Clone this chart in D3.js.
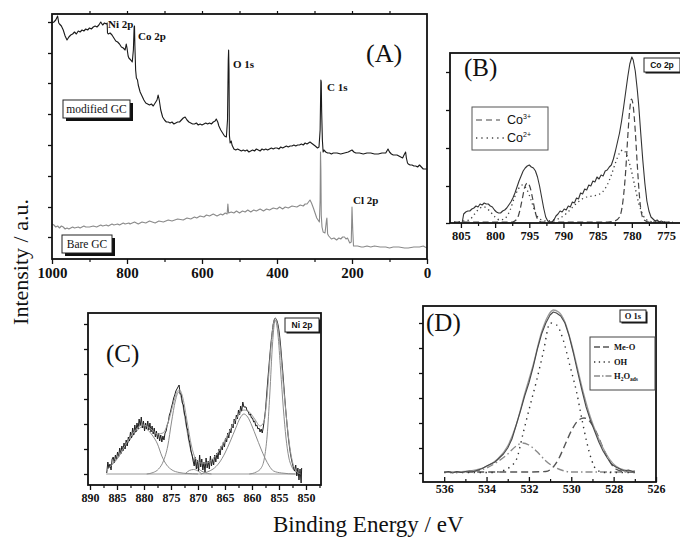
<!DOCTYPE html>
<html><head><meta charset="utf-8">
<script src="https://cdn.jsdelivr.net/npm/d3@7"></script>
<style>
html,body{margin:0;padding:0;background:#fff;}
svg{display:block;font-family:"Liberation Serif","Times New Roman",serif;}
</style></head><body>
<script>
// ---------- (A) survey spectra: [binding energy eV, intensity a.u.] ----------
const modifiedGC = [[1000,236],[995,237],[990,239],[985,243],[982,236],[980,235],[975,233],[970,229],[965,223],[960,219],[955,222],[950,224],[945,225],[940,227],[935,225],[930,228],[925,227],[920,229],[915,228],[910,230],[905,229],[900,231],[895,230],[890,232],[885,233],[880,232],[875,234],[870,237],[865,234],[860,236],[855,235],[853,236],[852,226],[850,225],[845,226],[840,224],[835,221],[830,218],[825,217],[820,215],[815,212],[810,211],[805,209],[802,215],[800,211],[797,203],[795,201],[790,199],[786,197],[783,209],[781,232],[780,233],[779,214],[777,189],[775,181],[772,179],[770,174],[765,167],[760,163],[755,159],[750,156],[745,155],[740,154],[735,155],[730,153],[725,156],[720,159],[717,164],[714,159],[710,149],[705,142],[700,139],[695,137],[690,137],[685,136],[680,137],[675,135],[670,136],[665,137],[660,137],[655,139],[650,141],[645,142],[640,139],[635,137],[630,136],[625,135],[620,135],[615,136],[610,134],[605,135],[600,134],[595,135],[590,136],[585,135],[580,136],[575,135],[570,137],[565,138],[562,140],[558,137],[555,133],[550,129],[545,126],[540,123],[535,122],[532,139],[530,199],[529,209],[528,189],[527,124],[525,116],[522,118],[520,114],[515,110],[510,109],[505,110],[500,109],[495,108],[490,109],[485,108],[480,109],[475,107],[470,108],[465,109],[460,108],[455,110],[450,109],[445,108],[440,110],[435,109],[430,110],[425,109],[420,110],[415,111],[410,110],[405,111],[400,111],[395,110],[390,112],[385,111],[380,112],[375,113],[370,112],[365,113],[360,113],[355,114],[350,113],[345,114],[340,114],[335,115],[330,114],[325,116],[320,115],[312,117],[305,115],[298,113],[292,111],[288,112],[285,129],[283,179],[282,177],[281,149],[279,119],[277,107],[275,109],[270,107],[265,106],[260,106],[255,105],[250,106],[240,106],[230,105],[220,106],[210,107],[200,109],[195,107],[190,106],[180,106],[170,105],[160,106],[150,106],[140,105],[130,105],[120,106],[110,106],[104,110],[100,107],[95,105],[90,104],[85,104],[80,104],[75,103],[70,102],[65,101],[60,105],[57,107],[55,101],[52,96],[50,95],[45,94],[40,94],[35,93],[30,93],[25,92],[20,94],[15,92],[10,90],[5,90],[0,90]];

const bareGC = [[1000,35],[995,34],[990,32],[985,33],[980,31],[975,33],[970,32],[965,30],[960,31],[955,30],[950,31],[945,32],[940,31],[930,32],[925,31],[915,33],[910,32],[900,32],[890,33],[881,32],[870,34],[865,33],[855,34],[850,33],[840,35],[835,34],[825,35],[820,34],[810,36],[805,35],[795,36],[792,35],[780,37],[770,35],[760,37],[750,36],[740,38],[725,36],[715,38],[703,37],[690,39],[680,38],[665,40],[650,39],[640,41],[630,40],[620,42],[614,41],[605,43],[595,42],[588,44],[580,43],[570,45],[560,43],[550,45],[545,44],[538,46],[533,45],[531,55],[529,46],[522,47],[515,46],[508,48],[500,46],[492,48],[485,47],[478,49],[470,47],[462,49],[455,48],[445,50],[436,48],[428,50],[420,49],[410,51],[400,50],[393,52],[385,50],[378,52],[370,51],[360,53],[347,52],[338,54],[330,53],[325,55],[320,55],[316,57],[312,59],[308,56],[303,51],[294,41],[287,37],[285,59],[284,107],[283,89],[282,44],[280,32],[277,27],[272,26],[268,39],[267,41],[265,25],[262,23],[255,20],[248,21],[241,19],[235,21],[230,20],[225,22],[220,22],[216,20],[212,21],[206,16],[202,17],[200,52],[198,29],[196,13],[185,13],[175,12],[170,12],[160,13],[150,12],[140,13],[125,12],[110,12],[100,11],[90,12],[75,12],[60,11],[50,11],[35,12],[20,12],[10,13],[0,11]];

const surveyTicks = [1000,800,600,400,200,0];
const surveyMinor = [900,700,500,300,100];
const surveyYTicks = [22,52,83,114,145,176,206,237];

// ---------- (B) Co 2p ----------
const co2pData = [[804.8,1],[804.6,9],[804.3,11],[804.0,12],[803.7,12],[803.4,14],[803.1,15],[802.8,17],[802.5,16],[802.2,19],[801.9,18],[801.6,20],[801.3,19],[801.0,19],[800.7,17],[800.4,16],[800.1,13],[799.8,11],[799.5,10],[799.2,10],[798.9,12],[798.6,13],[798.3,15],[798.0,18],[797.7,21],[797.4,25],[797.1,30],[796.8,36],[796.5,42],[796.2,47],[795.9,52],[795.6,55],[795.3,57],[795.0,58],[794.7,56],[794.4,55],[794.1,52],[793.8,46],[793.5,37],[793.2,26],[792.9,15],[792.6,6],[792.3,2],[792.0,1],[791.7,1],[791.4,3],[791.1,7],[790.8,9],[790.5,12],[790.2,11],[789.9,14],[789.6,13],[789.3,17],[789.0,16],[788.7,21],[788.4,20],[788.1,25],[787.8,24],[787.5,30],[787.2,29],[786.9,34],[786.6,33],[786.3,38],[786.0,37],[785.7,42],[785.4,41],[785.1,46],[784.8,44],[784.5,48],[784.2,47],[783.9,52],[783.6,53],[783.3,56],[783.0,58],[782.7,64],[782.4,72],[782.1,81],[781.8,90],[781.5,102],[781.2,116],[780.9,131],[780.6,146],[780.3,159],[780.0,166],[779.8,163],[779.5,152],[779.2,133],[779.0,118],[778.7,90],[778.4,63],[778.1,40],[777.8,22],[777.5,12],[777.2,6],[776.9,4],[776.6,2],[776.3,3],[776.0,1],[775.7,2],[775.4,1]];

const co3Fit = [[806,1],[800,1],[797.5,1],[796.8,4],[796.4,12],[796.0,25],[795.7,35],[795.3,40],[794.9,36],[794.5,24],[794.1,10],[793.7,3],[793.2,1],[788,1],[783.5,1],[782.5,2],[781.8,6],[781.3,22],[780.9,52],[780.6,86],[780.3,114],[780.05,124],[779.8,117],[779.5,92],[779.2,58],[778.9,28],[778.6,10],[778.2,3],[777.5,1],[774,1]];

const co2Fit = [[806,1],[803.8,3],[803,9],[802.2,15],[801.6,16],[800.8,12],[800,6],[799.3,3],[798.5,5],[797.8,13],[797.2,25],[796.6,34],[796.0,38],[795.4,34],[794.8,24],[794.2,12],[793.5,4],[792.5,2],[791.5,3],[790.5,5],[789.5,10],[788.5,17],[787.5,23],[786.6,26],[785.8,27],[785.0,28],[784.3,31],[783.6,38],[783.0,48],[782.4,60],[781.8,70],[781.3,73],[780.8,69],[780.2,56],[779.6,38],[779.0,20],[778.3,7],[777.5,2],[776.5,1],[774,1]];

const co2pTicks = [805,800,795,790,785,780,775];
const co2pMinor = [802.5,797.5,792.5,787.5,782.5,777.5,772.5];
const co2pYTicks = [0,37,75,113,151];

// ---------- (C) Ni 2p ----------
const ni2pData = [[886.9,1],[886.7,12],[886.5,6],[886.3,10],[886.1,4],[885.9,15],[885.7,17],[885.5,11],[885.3,19],[885.1,14],[884.9,22],[884.7,17],[884.5,26],[884.3,20],[884.1,28],[883.9,23],[883.7,31],[883.5,25],[883.3,34],[883.1,28],[882.9,37],[882.7,33],[882.5,42],[882.3,36],[882.1,46],[881.9,39],[881.7,49],[881.5,42],[881.3,51],[881.1,45],[880.9,55],[880.7,48],[880.5,57],[880.3,46],[880.1,53],[879.9,43],[879.7,51],[879.5,45],[879.3,53],[879.1,44],[878.9,51],[878.7,42],[878.5,48],[878.3,40],[878.1,46],[877.9,37],[877.7,43],[877.5,35],[877.3,41],[877.1,33],[876.9,39],[876.7,32],[876.5,38],[876.3,34],[876.1,41],[875.9,43],[875.7,49],[875.5,52],[875.3,59],[875.1,62],[874.9,67],[874.7,71],[874.5,76],[874.3,79],[874.1,83],[873.9,85],[873.7,87],[873.5,89],[873.3,80],[873.1,80],[872.9,71],[872.7,69],[872.5,60],[872.3,57],[872.1,47],[871.9,44],[871.7,35],[871.5,31],[871.3,23],[871.1,19],[870.9,13],[870.7,8],[870.5,17],[870.3,5],[870.1,14],[869.9,3],[869.7,19],[869.5,7],[869.3,15],[869.1,4],[868.9,12],[868.7,2],[868.5,16],[868.3,6],[868.1,13],[867.9,5],[867.7,18],[867.5,8],[867.3,15],[867.1,9],[866.9,19],[866.7,12],[866.5,21],[866.3,15],[866.1,25],[865.9,19],[865.7,28],[865.5,24],[865.3,32],[865.1,27],[864.9,36],[864.7,32],[864.5,41],[864.3,36],[864.1,45],[863.9,41],[863.7,50],[863.5,46],[863.3,55],[863.1,50],[862.9,59],[862.7,55],[862.5,64],[862.3,59],[862.1,68],[861.9,63],[861.7,72],[861.5,67],[861.3,67],[861.1,67],[860.9,63],[860.7,63],[860.5,59],[860.3,60],[860.1,56],[859.9,56],[859.7,52],[859.5,53],[859.3,48],[859.1,49],[858.9,45],[858.7,46],[858.5,42],[858.3,45],[858.1,41],[857.9,47],[857.7,55],[857.5,64],[857.3,78],[857.1,92],[856.9,105],[856.7,118],[856.5,130],[856.3,140],[856.1,149],[855.9,154],[855.7,156],[855.5,155],[855.3,152],[855.1,147],[854.9,139],[854.7,128],[854.5,115],[854.3,102],[854.1,88],[853.9,74],[853.7,61],[853.5,49],[853.3,38],[853.1,29],[852.9,21],[852.7,15],[852.5,10],[852.3,6],[852.1,3],[851.9,9],[851.7,-2],[851.5,6],[851.3,-6],[851.1,5],[850.9,-9],[850.8,6]];

const ni2pEnvelope = [[887,3],[886,9],[885,15],[884,24],[883,33],[882,41],[881,47],[880.3,49],[879.5,48],[878.5,44],[877.5,40],[876.5,41],[875.5,52],[874.5,72],[873.8,83],[873.4,84],[872.8,76],[872,52],[871.2,28],[870.5,16],[869.5,11],[868.5,11],[867.5,14],[866.5,20],[865.5,29],[864.5,39],[863.5,50],[862.5,59],[861.5,64],[860.5,62],[859.5,55],[858.5,48],[857.8,52],[857.2,78],[856.6,120],[856.1,148],[855.7,156],[855.3,150],[854.8,128],[854.2,90],[853.6,55],[853,27],[852.4,10],[851.8,3],[851,0]];
const ni2pPeak1 = [[887,3],[886,9],[885,15],[884,23],[883,31],[882,39],[881,45],[880.3,47],[879.5,45],[878.5,39],[877.5,30],[876.7,18],[875.8,9],[874.8,4],[873.5,1.5],[872,0.5],[870,0]];
const ni2pPeak2 = [[879.5,0],[878.3,1.5],[877.3,5],[876.4,13],[875.6,28],[874.9,52],[874.2,73],[873.6,82],[873,74],[872.3,52],[871.6,30],[870.8,14],[870,6],[869,2],[867.5,0]];
const ni2pPeak3 = [[869.5,0],[868.3,2],[867.2,5],[866.1,11],[865,21],[864,33],[863,46],[862.2,56],[861.5,60],[860.8,57],[860,48],[859.2,37],[858.4,26],[857.6,16],[856.8,8],[856,3],[854.5,1],[852,0]];
const ni2pPeak4 = [[860.5,0],[859.2,2],[858.3,6],[857.7,16],[857.2,38],[856.7,80],[856.2,130],[855.7,154],[855.2,140],[854.7,104],[854.2,66],[853.7,36],[853.2,17],[852.6,7],[852,2.5],[851,0.5]];
const ni2pSmall = [[872.4,0],[871.6,3.5],[870.8,4.5],[870,3],[869.3,0]];
const ni2pBaseline = [[887,0],[851,0]];

const ni2pTicks = [890,885,880,875,870,865,860,855,850];
const ni2pMinor = [887.5,882.5,877.5,872.5,867.5,862.5,857.5,852.5,847.5];
const ni2pYTicks = [0,25,50,75,100,125,150];

// ---------- (D) O 1s ----------
const o1sData = [[536,0.5],[535.8,1.5],[535.6,0],[535.4,1.5],[535.2,0.5],[535,1.5],[534.8,2],[534.6,1.5],[534.4,3],[534.2,4.5],[534,7],[533.8,9],[533.6,11],[533.4,15],[533.2,19],[533,25],[532.8,34],[532.6,48],[532.4,62],[532.2,77],[532,90],[531.8,106],[531.6,124],[531.4,139],[531.2,150],[531,158],[530.85,161],[530.7,160],[530.5,157],[530.3,150],[530.1,137],[529.9,120],[529.7,101],[529.5,83],[529.3,66],[529.1,53],[528.9,42],[528.7,31],[528.5,22],[528.3,15],[528.1,9],[527.9,6],[527.7,4],[527.5,2],[527.3,3],[527.1,1.5],[527,2]];
const o1sEnvelope = [[536,1],[535,1.5],[534.5,3],[534,6.5],[533.5,13.5],[533,27],[532.6,48],[532.2,79],[531.8,108],[531.4,141],[531.1,157],[530.85,163],[530.6,161],[530.3,151],[530,130],[529.7,104],[529.4,78],[529.1,56],[528.8,39],[528.5,25],[528.2,14],[527.9,7],[527.5,3],[527,1.5]];
const meOFit = [[536,1],[532,1],[531.2,1.5],[530.9,5],[530.6,14],[530.3,28],[530,42],[529.7,52],[529.4,55],[529.1,51],[528.8,40],[528.5,25],[528.2,12],[527.9,4],[527.5,1.5],[527,1]];
const ohFit = [[536,0.5],[533.8,0.5],[533.37,1.5],[532.9,6],[532.58,14],[532.27,40],[531.95,67],[531.63,93],[531.32,121],[531.0,150],[530.69,148],[530.38,133],[530.06,107],[529.74,80],[529.5,54],[529.27,31],[529.04,13],[528.8,3],[528.4,0.5],[527,0.5]];
const h2oFit = [[536,1],[535,1],[534.5,2],[534,5],[533.5,11],[533,19],[532.6,27],[532.3,30],[532,28],[531.6,21],[531.2,12],[530.8,6],[530.4,2.5],[530,1],[529,1],[527,1]];

const o1sTicks = [536,534,532,530,528,526];
const o1sMinor = [535,533,531,529,527];
const o1sYTicks = [0,25,50,75,100,125,150];

// ---------- drawing ----------
const SERIF = "'Liberation Serif','Times New Roman',serif";
const SANS = "'Liberation Sans',Arial,sans-serif";
const svg = d3.select("body").append("svg").attr("width", 680).attr("height", 539);

function makePanel(o) {
  const x = d3.scaleLinear().domain(o.xDomain).range([o.left, o.right]);
  const y = d3.scaleLinear().domain(o.yDomain).range([o.bottom, o.top]);
  svg.append("clipPath").attr("id", "clip-" + o.id)
    .append("rect").attr("x", o.left).attr("y", o.top - 2)
    .attr("width", o.right - o.left).attr("height", o.bottom - o.top + 2);
  const g = svg.append("g");
  const plot = g.append("g").attr("clip-path", `url(#clip-${o.id})`);

  const tickIn = o.ticksInside ? -1 : 1;
  // minor bottom ticks
  g.append("g").attr("transform", `translate(0,${o.bottom})`)
    .call(d3.axisBottom(x).tickValues(o.minor).tickSize(3 * tickIn).tickFormat(""))
    .call(a => a.select(".domain").remove())
    .selectAll("line").attr("stroke", "#111").attr("stroke-width", 1.2);
  // major bottom ticks with labels
  const bx = g.append("g").attr("transform", `translate(0,${o.bottom})`)
    .call(d3.axisBottom(x).tickValues(o.major).tickSize(5 * tickIn).tickPadding(o.pad).tickFormat(d3.format("d")));
  bx.select(".domain").remove();
  bx.selectAll("text").style("font-family", SERIF)
    .style("font-weight", "bold").style("font-size", o.fontSize + "px").attr("fill", "#111");
  bx.selectAll("line").attr("stroke", "#111").attr("stroke-width", 1.3);
  // left ticks
  g.append("g").attr("transform", `translate(${o.left},0)`)
    .call(d3.axisLeft(y).tickValues(o.yTicks).tickSize(4).tickFormat(""))
    .call(a => a.select(".domain").remove())
    .selectAll("line").attr("stroke", "#111").attr("stroke-width", 1.3);
  if (o.topTicks) {
    g.append("g").attr("transform", `translate(0,${o.top})`)
      .call(d3.axisTop(x).tickValues(o.topTicks).tickSize(3).tickFormat(""))
      .call(a => a.select(".domain").remove())
      .selectAll("line").attr("stroke", "#111").attr("stroke-width", 1.2);
  }
  // frame
  g.append("rect").attr("x", o.left).attr("y", o.top)
    .attr("width", o.right - o.left).attr("height", o.bottom - o.top)
    .attr("fill", "none").attr("stroke", "#111").attr("stroke-width", 1.8);
  return { x, y, plot, g };
}

function drawLine(p, data, color, width, dash, curve) {
  const line = d3.line().x(d => p.x(d[0])).y(d => p.y(d[1])).curve(curve || d3.curveLinear);
  p.plot.append("path").datum(data).attr("d", line)
    .attr("fill", "none").attr("stroke", color).attr("stroke-width", width)
    .attr("stroke-dasharray", dash || null).attr("stroke-linejoin", "round");
}

function text(x, y, s, size, weight, anchor, family) {
  return svg.append("text").attr("x", x).attr("y", y)
    .style("font-size", size + "px").style("font-weight", weight || "normal")
    .style("font-family", family || SERIF)
    .attr("text-anchor", anchor || "start").attr("fill", "#111").text(s);
}

function shadowBox(x, y, w, h, label, family, size, weight, shadow) {
  svg.append("rect").attr("x", x + shadow).attr("y", y + shadow).attr("width", w).attr("height", h).attr("fill", "#111");
  svg.append("rect").attr("x", x).attr("y", y).attr("width", w).attr("height", h)
    .attr("fill", "#fff").attr("stroke", "#222").attr("stroke-width", 1);
  text(x + w / 2, y + h / 2 + size * 0.35, label, size, weight, "middle", family);
}

// (A) survey
const pA = makePanel({ id: "A", left: 52, right: 427, top: 14, bottom: 259,
  xDomain: [1000, 0], yDomain: [0, 245], major: surveyTicks, minor: surveyMinor,
  yTicks: surveyYTicks, fontSize: 15, pad: 3, topTicks: d3.range(900, 0, -100) });
drawLine(pA, bareGC, "#8a8a8a", 1.1);
drawLine(pA, modifiedGC, "#1a1a1a", 1.1);
text(108, 28, "Ni 2p", 11, "bold");
text(138, 40, "Co 2p", 11, "bold");
text(233, 68, "O 1s", 11, "bold");
text(327, 91, "C 1s", 11, "bold");
text(353, 204, "Cl 2p", 11, "bold");
text(366, 62, "(A)", 26);
shadowBox(63, 100, 67, 18, "modified GC", SERIF, 11.5, "normal", 3);
shadowBox(62, 235, 50, 18, "Bare GC", SERIF, 11.5, "normal", 3);

// (B) Co 2p
const pB = makePanel({ id: "B", left: 450, right: 684, top: 53, bottom: 223,
  xDomain: [806.6, 772.37], yDomain: [0, 170], major: co2pTicks, minor: co2pMinor,
  yTicks: co2pYTicks, fontSize: 12.5, pad: 3 });
drawLine(pB, co2Fit, "#444", 1.3, "1.3,3.2", d3.curveMonotoneX);
drawLine(pB, co3Fit, "#444", 1.2, "6,3.5", d3.curveMonotoneX);
drawLine(pB, co2pData, "#333", 1.1);
text(464, 76, "(B)", 25);
// legend
svg.append("rect").attr("x", 472).attr("y", 107).attr("width", 76).attr("height", 43)
  .attr("fill", "#fff").attr("stroke", "#555").attr("stroke-width", 1);
svg.append("line").attr("x1", 476).attr("x2", 500).attr("y1", 120).attr("y2", 120)
  .attr("stroke", "#444").attr("stroke-width", 1.2).attr("stroke-dasharray", "6,4");
svg.append("line").attr("x1", 476).attr("x2", 504).attr("y1", 138).attr("y2", 138)
  .attr("stroke", "#444").attr("stroke-width", 1.3).attr("stroke-dasharray", "1.3,4");
const l1 = text(507, 124, "Co", 12.5, "normal", "start", SANS);
l1.append("tspan").attr("dy", -5).style("font-size", "7px").text("3+");
const l2 = text(507, 142, "Co", 12.5, "normal", "start", SANS);
l2.append("tspan").attr("dy", -5).style("font-size", "7px").text("2+");
shadowBox(644, 58, 36, 14, "Co 2p", SANS, 8.5, "bold", 1.5);

// (C) Ni 2p
const pC = makePanel({ id: "C", left: 88, right: 321, top: 313, bottom: 485,
  xDomain: [890.37, 847.22], yDomain: [-11, 161], major: ni2pTicks, minor: ni2pMinor,
  yTicks: ni2pYTicks, fontSize: 12, pad: 3 });
drawLine(pC, ni2pBaseline, "#999", 1);
[ni2pPeak1, ni2pPeak2, ni2pPeak3, ni2pPeak4, ni2pSmall].forEach(pk => drawLine(pC, pk, "#8c8c8c", 1, null, d3.curveMonotoneX));
drawLine(pC, ni2pData, "#1e1e1e", 1);
drawLine(pC, ni2pEnvelope, "#9a9a9a", 1, null, d3.curveMonotoneX);
text(106, 362, "(C)", 25);
shadowBox(285, 318, 34, 14, "Ni 2p", SANS, 8.5, "bold", 1.5);

// (D) O 1s
const pD = makePanel({ id: "D", left: 423, right: 656, top: 306, bottom: 482,
  xDomain: [537, 526], yDomain: [-9, 167], major: o1sTicks, minor: o1sMinor,
  yTicks: o1sYTicks, fontSize: 12, pad: 2, ticksInside: true });
drawLine(pD, h2oFit, "#8a8a8a", 1.4, "7,3,1.5,3", d3.curveMonotoneX);
drawLine(pD, meOFit, "#555", 1.4, "7,4", d3.curveMonotoneX);
drawLine(pD, ohFit, "#333", 1.4, "1.4,4.5", d3.curveMonotoneX);
drawLine(pD, o1sEnvelope, "#9a9a9a", 1.3, null, d3.curveMonotoneX);
drawLine(pD, o1sData, "#4a4a4a", 1.1);
text(426, 331, "(D)", 25);
shadowBox(620, 310, 26, 12, "O 1s", SERIF, 8.5, "bold", 1.5);
svg.append("rect").attr("x", 590).attr("y", 337).attr("width", 65).attr("height", 53)
  .attr("fill", "#fff").attr("stroke", "#444").attr("stroke-width", 1);
svg.append("line").attr("x1", 594).attr("x2", 612).attr("y1", 347).attr("y2", 347)
  .attr("stroke", "#555").attr("stroke-width", 1.3).attr("stroke-dasharray", "6,3");
svg.append("line").attr("x1", 594).attr("x2", 612).attr("y1", 362).attr("y2", 362)
  .attr("stroke", "#333").attr("stroke-width", 1.3).attr("stroke-dasharray", "1.3,3.5");
svg.append("line").attr("x1", 594).attr("x2", 612).attr("y1", 376).attr("y2", 376)
  .attr("stroke", "#8a8a8a").attr("stroke-width", 1.3).attr("stroke-dasharray", "6,2,1.5,2");
text(614, 350, "Me-O", 8.5, "bold");
text(614, 365, "OH", 8.5, "bold");
const h2o = text(614, 379, "H", 8.5, "bold");
h2o.append("tspan").attr("dy", 2).style("font-size", "5.5px").text("2");
h2o.append("tspan").attr("dy", -2).text("O");
h2o.append("tspan").attr("dy", 2).style("font-size", "5.5px").text("ads");

// shared axis titles
text(0, 0, "Intensity / a.u.", 22, "normal", "middle")
  .attr("transform", "translate(28,262) rotate(-90)");
text(273, 532, "Binding Energy / eV", 23);
</script>
</body></html>
